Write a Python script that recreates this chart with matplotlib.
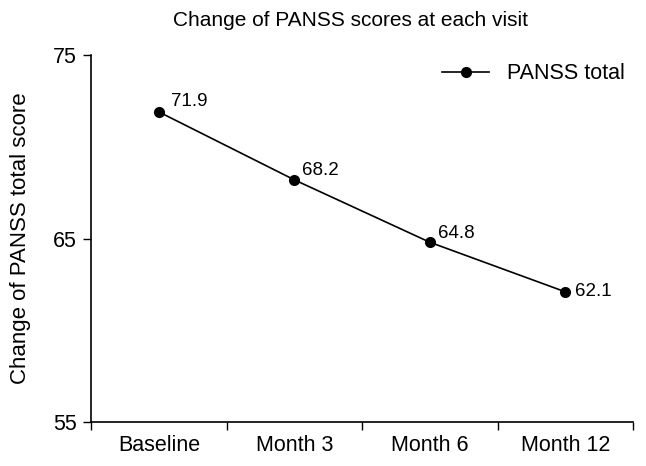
import matplotlib.pyplot as plt

plt.rcParams['font.family'] = ['Liberation Sans', 'DejaVu Sans']

visits = ["Baseline", "Month 3", "Month 6", "Month 12"]
panss_total = [71.9, 68.2, 64.8, 62.1]
y_ticks = [55, 65, 75]


def plot_panss():
    fig = plt.figure(figsize=(6.46, 4.66), dpi=100)
    ax = fig.add_axes([0.141, 0.094, 0.839, 0.788])

    x = list(range(len(visits)))
    ax.plot(x, panss_total, color='black', linewidth=1.2, marker='o',
            markersize=7, label='PANSS total')

    # Value labels next to points (pixel offsets placed by hand)
    offsets = [(12, 10), (8, 9.5), (8, 8.5), (10, 0)]
    for i, value in enumerate(panss_total):
        ax.annotate(f'{value:.1f}', (i, value), xytext=offsets[i],
                    textcoords='offset pixels', ha='left', va='center', fontsize=13.5)

    ax.set_xlim(-0.5, len(visits) - 0.5)
    ax.set_ylim(55, 75)
    ax.set_yticks(y_ticks)
    ax.set_xticks([i - 0.5 for i in range(len(visits) + 1)])
    ax.set_xticklabels([])
    ax.set_xticks(x, minor=True)
    ax.set_xticklabels(visits, minor=True, fontsize=15.5)
    ax.tick_params(axis='x', which='minor', length=0, pad=9)
    ax.tick_params(axis='x', which='major', length=6, direction='out', width=1)
    ax.tick_params(axis='y', length=6, direction='out', width=1, labelsize=15.5, pad=4)

    for side in ['top', 'right']:
        ax.spines[side].set_visible(False)
    for side in ['left', 'bottom']:
        ax.spines[side].set_linewidth(1.2)

    ax.set_ylabel('Change of PANSS total score', fontsize=16, labelpad=16)
    fig.text(0.543, 0.955, 'Change of PANSS scores at each visit', ha='center',
             va='center', fontsize=15)
    ax.legend(loc='upper right', frameon=False, fontsize=15.5, handlelength=2.2,
              bbox_to_anchor=(1.02, 1.03))

    fig.savefig('out.png', dpi=100)


if __name__ == "__main__":
    plot_panss()
